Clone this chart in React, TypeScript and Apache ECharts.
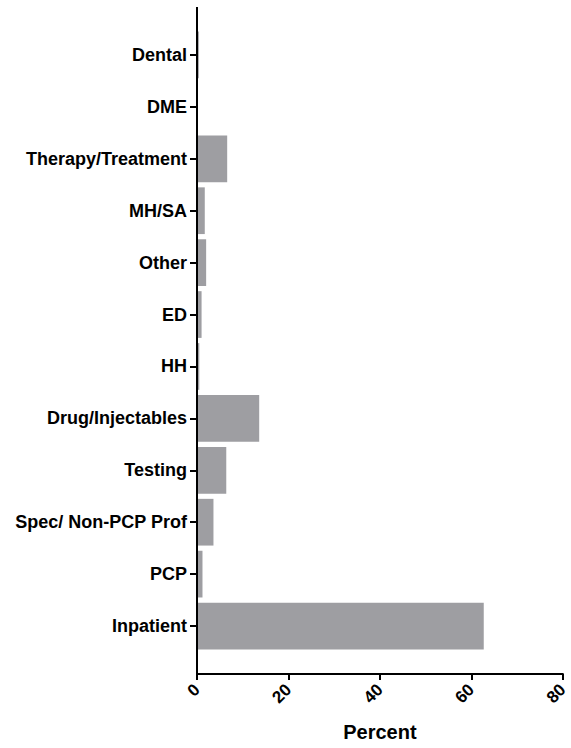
import React, { useEffect, useRef } from "react";
import * as echarts from "echarts";

const categories = [
  "Dental",
  "DME",
  "Therapy/Treatment",
  "MH/SA",
  "Other",
  "ED",
  "HH",
  "Drug/Injectables",
  "Testing",
  "Spec/ Non-PCP Prof",
  "PCP",
  "Inpatient",
];
const percentValues = [0.4, 0.1, 6.6, 1.7, 2.0, 1.0, 0.5, 13.6, 6.4, 3.6, 1.2, 62.7];
const xTicks = [0, 20, 40, 60, 80];

const FONT = "'Liberation Sans', Arial, Helvetica, sans-serif";

export default function App() {
  const ref = useRef<HTMLDivElement>(null);
  useEffect(() => {
    if (!ref.current) return;
    const chart = echarts.init(ref.current, null, { renderer: "svg" });
    chart.setOption({
      animation: false,
      backgroundColor: "#ffffff",
      grid: { left: 197, width: 368, top: 29, height: 623 },
      xAxis: {
        type: "value",
        min: xTicks[0],
        max: xTicks[xTicks.length - 1],
        interval: 20,
        offset: 22,
        name: "Percent",
        nameLocation: "middle",
        nameGap: 48,
        nameTextStyle: { fontFamily: FONT, fontWeight: "bold", fontSize: 20, color: "#000" },
        axisLine: { show: true, lineStyle: { color: "#000", width: 2 } },
        axisTick: { show: true, length: 6, lineStyle: { color: "#000", width: 2 } },
        axisLabel: {
          rotate: 45,
          margin: 13,
          fontFamily: FONT,
          fontWeight: "bold",
          fontSize: 17,
          color: "#000",
        },
        splitLine: { show: false },
      },
      yAxis: {
        type: "category",
        inverse: true,
        data: categories,
        axisLine: { show: false },
        axisTick: { show: true, alignWithLabel: true, length: 7, lineStyle: { color: "#000", width: 2 } },
        axisLabel: {
          margin: 10,
          fontFamily: FONT,
          fontWeight: "bold",
          fontSize: 18,
          color: "#000",
        },
        splitLine: { show: false },
      },
      graphic: [
        {
          type: "line",
          shape: { x1: 197, y1: 7, x2: 197, y2: 675 },
          style: { stroke: "#000", lineWidth: 2 },
          z: 10,
        },
      ],
      series: [
        {
          type: "bar",
          data: percentValues,
          barCategoryGap: "10%",
          itemStyle: { color: "#9e9ea2" },
        },
      ],
    });
    return () => chart.dispose();
  }, []);
  return (
    <div
      ref={ref}
      style={{ position: "fixed", left: 0, top: 0, width: 571, height: 748 }}
    />
  );
}
